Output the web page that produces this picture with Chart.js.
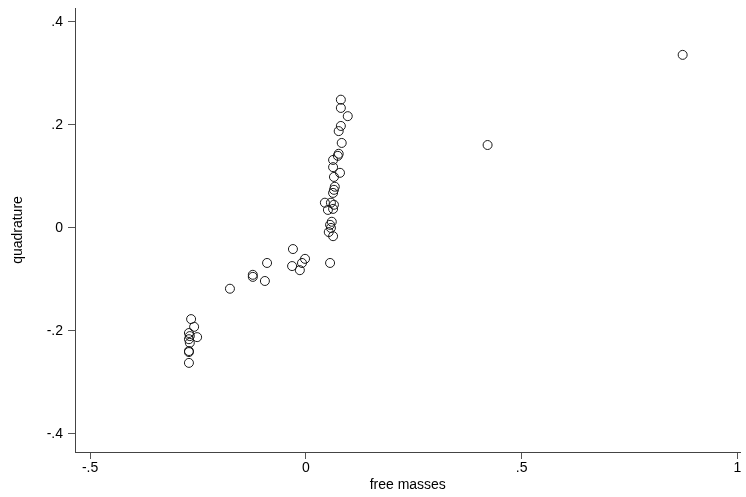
<!DOCTYPE html>
<html>
<head>
<meta charset="utf-8">
<script src="https://cdn.jsdelivr.net/npm/chart.js@4"></script>
<style>
  html, body { margin: 0; padding: 0; background: #fff; }
  #wrap { width: 746px; height: 497px; }
</style>
</head>
<body>
<div id="wrap"><canvas id="scatter"></canvas></div>
<script>
// values (free masses vs quadrature)
var freeMasses = [
  0.873, 0.421,
  0.081, 0.081, 0.097, 0.081, 0.076, 0.083, 0.076, 0.074, 0.063, 0.063,
  0.079, 0.065, 0.067, 0.065, 0.063, 0.044, 0.058, 0.065, 0.051, 0.063,
  0.060, 0.056, 0.058, 0.053, 0.063, 0.056,
  -0.030, -0.032, -0.014, -0.009, -0.002, -0.090, -0.095, -0.123, -0.123, -0.176,
  -0.266, -0.259, -0.271, -0.269, -0.252, -0.271, -0.269, -0.271, -0.271, -0.271
];
var quadrature = [
  0.336, 0.161,
  0.249, 0.233, 0.217, 0.198, 0.188, 0.165, 0.144, 0.140, 0.132, 0.118,
  0.107, 0.099, 0.080, 0.074, 0.068, 0.049, 0.049, 0.045, 0.035, 0.037,
  0.012, 0.006, 0.000, -0.008, -0.016, -0.068,
  -0.041, -0.074, -0.082, -0.068, -0.060, -0.068, -0.103, -0.091, -0.095, -0.118,
  -0.177, -0.192, -0.204, -0.210, -0.212, -0.216, -0.223, -0.239, -0.241, -0.262
];
var xTicks = [-0.5, 0, 0.5, 1];
var yTicks = [-0.4, -0.2, 0, 0.2, 0.4];

// stata style labels: .5 instead of 0.5
function stataLabel(v) {
  if (v === 0) return '0';
  return String(v).replace('0.', '.');
}

var points = freeMasses.map(function (x, i) { return { x: x, y: quadrature[i] }; });

new Chart(document.getElementById('scatter'), {
  type: 'scatter',
  data: {
    datasets: [{
      data: points,
      pointRadius: 4.5,
      pointHoverRadius: 4.5,
      pointBackgroundColor: 'rgba(0,0,0,0)',
      pointBorderColor: '#1a1a1a',
      pointBorderWidth: 1
    }]
  },
  options: {
    responsive: true,
    maintainAspectRatio: false,
    animation: false,
    layout: { padding: { top: 8, right: 0, left: 0, bottom: 0 } },
    plugins: { legend: { display: false }, tooltip: { enabled: false } },
    scales: {
      x: {
        type: 'linear',
        min: -0.535,
        max: 1.007,
        afterBuildTicks: function (axis) { axis.ticks = xTicks.map(function (v) { return { value: v }; }); },
        afterFit: function (axis) { axis.height = 45; },
        grid: { drawOnChartArea: false, drawTicks: true, tickLength: 7, color: '#555' },
        border: { display: true, color: '#444', width: 1 },
        ticks: {
          color: '#000', padding: 1, maxRotation: 0, autoSkip: false,
          font: { family: 'Liberation Sans', size: 14 },
          callback: function (v) { return stataLabel(v); }
        },
        title: {
          display: true, text: 'free masses', color: '#000', padding: { top: 0, bottom: 3 },
          font: { family: 'Liberation Sans', size: 14 }
        }
      },
      y: {
        type: 'linear',
        min: -0.435,
        max: 0.427,
        afterBuildTicks: function (axis) { axis.ticks = yTicks.map(function (v) { return { value: v }; }); },
        afterFit: function (axis) { axis.width = 75; axis.paddingTop = 0; axis.paddingBottom = 0; },
        grid: { drawOnChartArea: false, drawTicks: true, tickLength: 7, color: '#555' },
        border: { display: true, color: '#444', width: 1 },
        ticks: {
          color: '#000', padding: 5, autoSkip: false,
          font: { family: 'Liberation Sans', size: 14 },
          callback: function (v) { return stataLabel(v); }
        },
        title: {
          display: true, text: 'quadrature', color: '#000', padding: { top: 10, bottom: 0 },
          font: { family: 'Liberation Sans', size: 14 }
        }
      }
    }
  }
});
</script>
</body>
</html>
